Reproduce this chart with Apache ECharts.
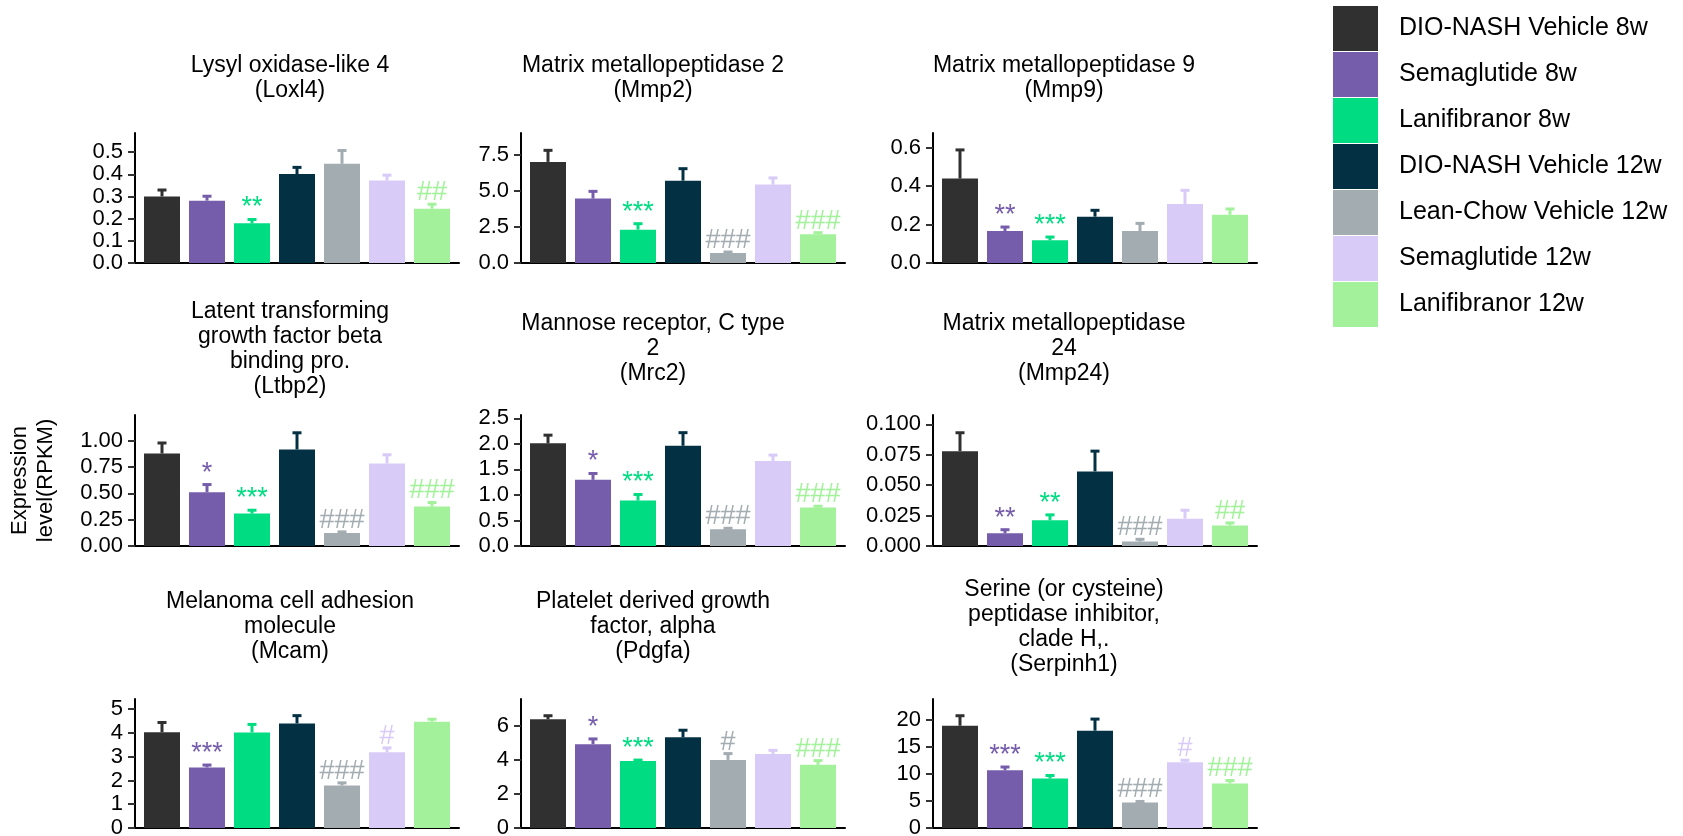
<!DOCTYPE html>
<html><head><meta charset="utf-8">
<script src="https://cdn.jsdelivr.net/npm/echarts@6/dist/echarts.min.js"></script>
<style>html,body{margin:0;padding:0;background:#fff}#c{width:1683px;height:836px}</style>
</head><body><div id="c"></div>
<script>
// ---------- data ----------
const groups = ['DIO-NASH Vehicle 8w','Semaglutide 8w','Lanifibranor 8w','DIO-NASH Vehicle 12w','Lean-Chow Vehicle 12w','Semaglutide 12w','Lanifibranor 12w'];

const titles = [
  'Lysyl oxidase-like 4\n(Loxl4)',
  'Matrix metallopeptidase 2\n(Mmp2)',
  'Matrix metallopeptidase 9\n(Mmp9)',
  'Latent transforming\ngrowth factor beta\nbinding pro.\n(Ltbp2)',
  'Mannose receptor, C type\n2\n(Mrc2)',
  'Matrix metallopeptidase\n24\n(Mmp24)',
  'Melanoma cell adhesion\nmolecule\n(Mcam)',
  'Platelet derived growth\nfactor, alpha\n(Pdgfa)',
  'Serine (or cysteine)\npeptidase inhibitor,\nclade H,.\n(Serpinh1)'
];

const loxl4     = [0.300, 0.281, 0.179, 0.401, 0.447, 0.372, 0.245];
const loxl4Err  = [0.029, 0.020, 0.017, 0.030, 0.060, 0.024, 0.020];
const loxl4Sig  = ['', '', '**', '', '', '', '##'];
const loxl4Ticks = ['0.0','0.1','0.2','0.3','0.4','0.5'];

const mmp2      = [7.00, 4.46, 2.31, 5.70, 0.69, 5.43, 1.99];
const mmp2Err   = [0.80, 0.50, 0.41, 0.83, 0.07, 0.46, 0.11];
const mmp2Sig   = ['', '', '***', '', '###', '', '###'];
const mmp2Ticks = ['0.0','2.5','5.0','7.5'];

const mmp9      = [0.439, 0.166, 0.118, 0.241, 0.166, 0.307, 0.251];
const mmp9Err   = [0.149, 0.021, 0.017, 0.033, 0.040, 0.071, 0.030];
const mmp9Sig   = ['', '**', '***', '', '', '', ''];
const mmp9Ticks = ['0.0','0.2','0.4','0.6'];

const ltbp2     = [0.879, 0.511, 0.308, 0.917, 0.124, 0.784, 0.375];
const ltbp2Err  = [0.100, 0.073, 0.032, 0.159, 0.010, 0.083, 0.038];
const ltbp2Sig  = ['', '*', '***', '', '###', '', '###'];
const ltbp2Ticks = ['0.00','0.25','0.50','0.75','1.00'];

const mrc2      = [2.01, 1.296, 0.89, 1.963, 0.327, 1.662, 0.753];
const mrc2Err   = [0.16, 0.124, 0.118, 0.256, 0.020, 0.118, 0.026];
const mrc2Sig   = ['', '*', '***', '', '###', '', '###'];
const mrc2Ticks = ['0.0','0.5','1.0','1.5','2.0','2.5'];

const mmp24     = [0.0780, 0.0104, 0.0212, 0.0613, 0.0036, 0.0225, 0.0168];
const mmp24Err  = [0.0151, 0.0030, 0.0044, 0.0167, 0.0019, 0.0069, 0.0022];
const mmp24Sig  = ['', '**', '**', '', '###', '', '##'];
const mmp24Ticks = ['0.000','0.025','0.050','0.075','0.100'];

const mcam      = [4.03, 2.55, 4.02, 4.40, 1.79, 3.19, 4.47];
const mcamErr   = [0.41, 0.10, 0.34, 0.33, 0.11, 0.18, 0.11];
const mcamSig   = ['', '***', '', '', '###', '#', ''];
const mcamTicks = ['0','1','2','3','4','5'];

const pdgfa     = [6.37, 4.91, 3.92, 5.32, 3.99, 4.34, 3.70];
const pdgfaErr  = [0.21, 0.31, 0.06, 0.41, 0.37, 0.21, 0.25];
const pdgfaSig  = ['', '*', '***', '', '#', '', '###'];
const pdgfaTicks = ['0','2','4','6'];

const serpinh1    = [18.95, 10.7, 9.17, 18.03, 4.74, 12.18, 8.25];
const serpinh1Err = [1.85, 0.60, 0.55, 2.15, 0.18, 0.37, 0.55];
const serpinh1Sig = ['', '***', '***', '', '###', '#', '###'];
const serpinh1Ticks = ['0','5','10','15','20'];

const axisMax = [0.586, 9.0, 0.676, 1.245, 2.565, 0.1077, 5.43, 7.56, 23.9];

// ---------- assembly ----------
const panelValues = [loxl4, mmp2, mmp9, ltbp2, mrc2, mmp24, mcam, pdgfa, serpinh1];
const panelErrs   = [loxl4Err, mmp2Err, mmp9Err, ltbp2Err, mrc2Err, mmp24Err, mcamErr, pdgfaErr, serpinh1Err];
const panelSigs   = [loxl4Sig, mmp2Sig, mmp9Sig, ltbp2Sig, mrc2Sig, mmp24Sig, mcamSig, pdgfaSig, serpinh1Sig];
const panelTicks  = [loxl4Ticks, mmp2Ticks, mmp9Ticks, ltbp2Ticks, mrc2Ticks, mmp24Ticks, mcamTicks, pdgfaTicks, serpinh1Ticks];

// ---------- styles / layout ----------
const colors = ['#303030','#755dab','#00dc82','#043044','#a3acb1','#d9cbf7','#a3f29b'];
const FONT = '"Liberation Sans", Arial, Helvetica, sans-serif';
const colLeft = [135, 521, 933];
const gridW = 324;
const rowTop = [133, 415, 699];
const rowH = [130, 131, 129];
const titleX = [290, 653, 1064];
const titleY = [78, 349, 627];

const grids = [], xAxes = [], yAxes = [], series = [], graphics = [];

function makeRender(pi) {
  return function (params, api) {
    const x = api.value(0), v = api.value(1), e = api.value(2);
    const gi = params.dataIndex;
    const p0 = api.coord([x, v]);
    const p1 = api.coord([x, v + e]);
    const c = colors[gi];
    const ch = [
      {type: 'line', shape: {x1: p0[0], y1: p0[1], x2: p1[0], y2: p1[1]}, style: {stroke: c, lineWidth: 3}},
      {type: 'line', shape: {x1: p1[0] - 4.5, y1: p1[1], x2: p1[0] + 4.5, y2: p1[1]}, style: {stroke: c, lineWidth: 3}}
    ];
    const s = panelSigs[pi][gi];
    if (s) {
      ch.push({type: 'text', x: p1[0], y: p1[1] + 2,
        style: {text: s, fill: c, font: '27px ' + FONT, align: 'center', verticalAlign: 'bottom'}});
    }
    return {type: 'group', children: ch};
  };
}

for (let pi = 0; pi < 9; pi++) {
  const r = Math.floor(pi / 3), c = pi % 3;
  grids.push({left: colLeft[c], top: rowTop[r], width: gridW, height: rowH[r], outerBoundsMode: 'none', containLabel: false});
  xAxes.push({
    type: 'value', gridIndex: pi, min: -0.6, max: 6.6,
    axisLine: {show: true, onZero: true, lineStyle: {color: '#000', width: 2}},
    axisTick: {show: false}, axisLabel: {show: false}, splitLine: {show: false}
  });
  const ticks = panelTicks[pi];
  const tickVals = ticks.map(Number);
  yAxes.push({
    type: 'value', gridIndex: pi, min: 0, max: axisMax[pi],
    axisLine: {show: true, onZero: false, lineStyle: {color: '#000', width: 2}},
    axisTick: {show: true, length: 7, customValues: tickVals, lineStyle: {color: '#333', width: 2}},
    axisLabel: {show: true, customValues: tickVals, margin: 12, color: '#000', fontSize: 22, fontFamily: FONT,
      lineHeight: 16, hideOverlap: false, showMinLabel: true, showMaxLabel: true, minMargin: 0,
      formatter: function (v) { const i = tickVals.findIndex(t => Math.abs(t - v) < 1e-9); return i >= 0 ? ticks[i] : ''; }},
    splitLine: {show: false},
    name: pi === 3 ? 'Expression\nlevel(RPKM)' : '',
    nameLocation: 'middle', nameGap: 76, nameRotate: 90,
    nameTextStyle: {color: '#000', fontSize: 22, fontFamily: FONT, lineHeight: 26}
  });
  const vals = panelValues[pi];
  for (let gi = 0; gi < 7; gi++) {
    series.push({
      type: 'bar', name: groups[gi], xAxisIndex: pi, yAxisIndex: pi,
      barWidth: 36, barGap: '-100%',
      data: [[gi, vals[gi]]],
      itemStyle: {color: colors[gi]},
      silent: true, animation: false
    });
  }
  series.push({
    type: 'custom', xAxisIndex: pi, yAxisIndex: pi, silent: true, animation: false, z: 5,
    data: vals.map((v, gi) => [gi, v, panelErrs[pi][gi]]),
    renderItem: makeRender(pi)
  });
  graphics.push({
    type: 'text', x: titleX[c], y: titleY[r], silent: true,
    style: {text: titles[pi], fill: '#000', font: '23px ' + FONT, lineHeight: 25, align: 'center', verticalAlign: 'middle'}
  });
}

const chart = echarts.init(document.getElementById('c'), null, {renderer: 'canvas'});
chart.setOption({
  backgroundColor: '#fff',
  animation: false,
  grid: grids, xAxis: xAxes, yAxis: yAxes, series: series,
  legend: {
    orient: 'vertical', left: 1333, top: 6, padding: 0, itemWidth: 45, itemHeight: 45, itemGap: 1,
    icon: 'rect', data: groups, selectedMode: false,
    textStyle: {color: '#000', fontSize: 25, fontFamily: FONT, padding: [0, 0, 0, 16]}
  },
  graphic: graphics
});
</script>
</body></html>
